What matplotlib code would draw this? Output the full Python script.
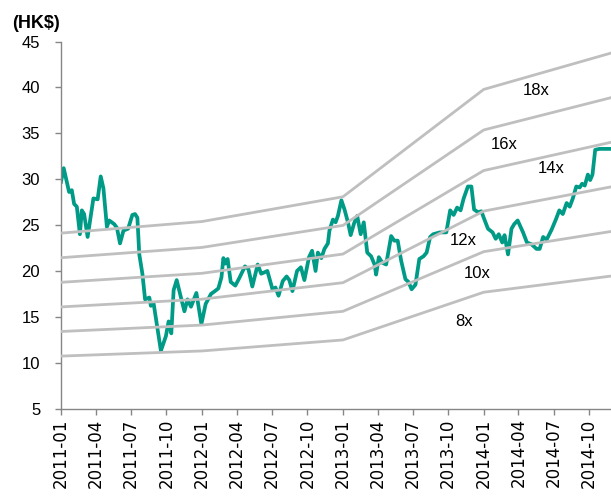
import matplotlib
matplotlib.use("Agg")
import matplotlib.pyplot as plt
import matplotlib.dates as mdates
import numpy as np
import pandas as pd

# ---- data -------------------------------------------------------------
price_dates = [
    "2011-01-01", "2011-01-08", "2011-01-22", "2011-01-29", "2011-02-04", "2011-02-11",
    "2011-02-19", "2011-02-24", "2011-03-02", "2011-03-11", "2011-03-26", "2011-04-06",
    "2011-04-14", "2011-04-21", "2011-04-30", "2011-05-06", "2011-05-19", "2011-05-26",
    "2011-06-03", "2011-06-12", "2011-06-24", "2011-07-05", "2011-07-12", "2011-07-18",
    "2011-07-23", "2011-07-31", "2011-08-07", "2011-08-18", "2011-08-22", "2011-08-29",
    "2011-09-17", "2011-09-30", "2011-10-07", "2011-10-14", "2011-10-20", "2011-10-28",
    "2011-11-08", "2011-11-17", "2011-11-25", "2011-12-04", "2011-12-18", "2011-12-31",
    "2012-01-11", "2012-01-25", "2012-02-04", "2012-02-13", "2012-02-21", "2012-02-26",
    "2012-03-02", "2012-03-08", "2012-03-16", "2012-03-28", "2012-04-07", "2012-04-22",
    "2012-05-01", "2012-05-11", "2012-05-25", "2012-06-03", "2012-06-09", "2012-06-19",
    "2012-07-03", "2012-07-10", "2012-07-18", "2012-07-29", "2012-08-08", "2012-08-15",
    "2012-08-23", "2012-09-04", "2012-09-14", "2012-09-23", "2012-10-05", "2012-10-13",
    "2012-10-22", "2012-10-28", "2012-11-06", "2012-11-14", "2012-11-23", "2012-11-27",
    "2012-12-06", "2012-12-13", "2012-12-19", "2012-12-28", "2013-01-05", "2013-01-14",
    "2013-01-21", "2013-01-30", "2013-02-07", "2013-02-16", "2013-02-24", "2013-03-05",
    "2013-03-15", "2013-03-24", "2013-03-28", "2013-04-04", "2013-04-13", "2013-04-23",
    "2013-05-06", "2013-05-14", "2013-05-23", "2013-06-01", "2013-06-12", "2013-06-20",
    "2013-06-28", "2013-07-08", "2013-07-18", "2013-07-29", "2013-08-06", "2013-08-15",
    "2013-08-23", "2013-09-09", "2013-09-26", "2013-10-06", "2013-10-15", "2013-10-24",
    "2013-11-02", "2013-11-10", "2013-11-21", "2013-11-30", "2013-12-07", "2013-12-17",
    "2013-12-26", "2014-01-01", "2014-01-12", "2014-01-24", "2014-02-01", "2014-02-09",
    "2014-02-18", "2014-02-24", "2014-03-05", "2014-03-14", "2014-03-21", "2014-03-30",
    "2014-04-13", "2014-04-23", "2014-05-05", "2014-05-18", "2014-05-26", "2014-06-04",
    "2014-06-13", "2014-06-26", "2014-07-07", "2014-07-16", "2014-07-25", "2014-08-04",
    "2014-08-12", "2014-08-20", "2014-08-29", "2014-09-07", "2014-09-13", "2014-09-20",
    "2014-09-28", "2014-10-04", "2014-10-10", "2014-10-17", "2014-10-28", "2014-11-27",
]
price = [
    29.7, 31.2, 28.6, 28.8, 27.3, 27.0,
    24.0, 26.6, 26.2, 23.7, 27.9, 27.8,
    30.3, 29.0, 24.8, 25.5, 25.1, 24.7,
    23.0, 24.4, 24.6, 26.1, 26.2, 25.8,
    21.8, 19.7, 16.9, 17.1, 16.2, 16.5,
    11.3, 12.9, 14.5, 13.2, 17.9, 19.0,
    17.1, 15.6, 16.9, 16.1, 17.6, 14.2,
    16.4, 17.5, 17.8, 18.1, 19.3, 21.4,
    20.8, 21.3, 18.8, 18.4, 19.2, 20.5,
    20.2, 18.3, 20.7, 19.7, 19.8, 20.0,
    17.9, 18.2, 17.3, 18.9, 19.4, 19.0,
    17.8, 20.0, 20.4, 19.0, 21.5, 22.2,
    20.0, 22.0, 21.4, 22.4, 23.0, 24.4,
    25.6, 25.3, 26.0, 27.7, 26.7, 25.3,
    23.9, 25.2, 26.0, 24.0, 25.3, 22.0,
    21.6, 20.7, 19.6, 21.5, 20.9, 20.7,
    23.8, 23.3, 23.3, 21.1, 19.1, 18.8,
    18.0, 18.5, 21.3, 21.6, 22.0, 23.7,
    24.0, 24.2, 24.2, 26.6, 26.1, 26.9,
    26.6, 27.9, 29.2, 29.2, 26.7, 26.4,
    26.5, 25.8, 24.6, 24.2, 23.5, 24.0,
    23.1, 23.9, 21.8, 24.6, 25.1, 25.5,
    24.2, 23.1, 22.9, 22.4, 22.4, 23.7,
    23.4, 24.5, 25.6, 26.6, 26.2, 27.4,
    27.0, 27.9, 29.2, 29.1, 29.5, 29.3,
    30.5, 29.9, 30.5, 33.2, 33.3, 33.3,
]

eps_dates = ["2011-01-01", "2012-01-01", "2013-01-01", "2014-01-01", "2014-11-27"]
eps = [1.34, 1.41, 1.56, 2.21, 2.43]
multiples = [8, 10, 12, 14, 16, 18]
band_labels = ["8x", "10x", "12x", "14x", "16x", "18x"]
label_dates = ["2013-11-12", "2013-12-16", "2013-11-10", "2014-06-24", "2014-02-24", "2014-05-16"]
label_y = [14.5, 19.7, 23.3, 31.2, 33.8, 39.7]

x_ticks = pd.date_range("2011-01-01", "2014-10-01", freq="QS")
y_ticks = [5, 10, 15, 20, 25, 30, 35, 40, 45]

# ---- figure -----------------------------------------------------------
fig = plt.figure(figsize=(6.11, 4.96), dpi=100)
ax = fig.add_axes([61 / 611, 1 - 408.6 / 496, 1 - 61 / 611, (408.6 - 41.5) / 496])

pdates = pd.to_datetime(price_dates)
edates = pd.to_datetime(eps_dates)

ax.plot(pdates, price, color="#009B86", lw=2.7, solid_joinstyle="round", zorder=2)
for m in multiples:
    ax.plot(edates, np.array(eps) * m, color="#BFBFBF", lw=2.0, zorder=3)

for lab, d, y in zip(band_labels, label_dates, label_y):
    ax.text(pd.Timestamp(d), y, lab, ha="center", va="center", fontsize=12,
            family="Liberation Sans", color="#000000", zorder=4)

ax.set_xlim(pd.Timestamp("2011-01-01"), pd.Timestamp("2014-11-27"))
ax.set_ylim(5, 45)
ax.set_yticks(y_ticks)
ax.set_xticks(x_ticks)
ax.xaxis.set_major_formatter(mdates.DateFormatter("%Y-%m"))

for s in ["top", "right"]:
    ax.spines[s].set_visible(False)
for s in ["left", "bottom"]:
    ax.spines[s].set_color("#868686")
    ax.spines[s].set_linewidth(1.0)

ax.tick_params(axis="both", direction="out", length=4, width=1, color="#868686")
ax.tick_params(axis="y", pad=11, labelsize=12)
ax.tick_params(axis="x", pad=3, labelsize=12, labelrotation=90)
for lbl in ax.get_yticklabels():
    lbl.set_family("Liberation Sans")
for lbl in ax.get_xticklabels():
    lbl.set_family("DejaVu Sans")

fig.text(12 / 611, 1 - 23 / 496, "(HK$)", fontsize=13, fontweight="bold",
         family="Liberation Sans", ha="left", va="center")

fig.savefig("out.png", dpi=100)
